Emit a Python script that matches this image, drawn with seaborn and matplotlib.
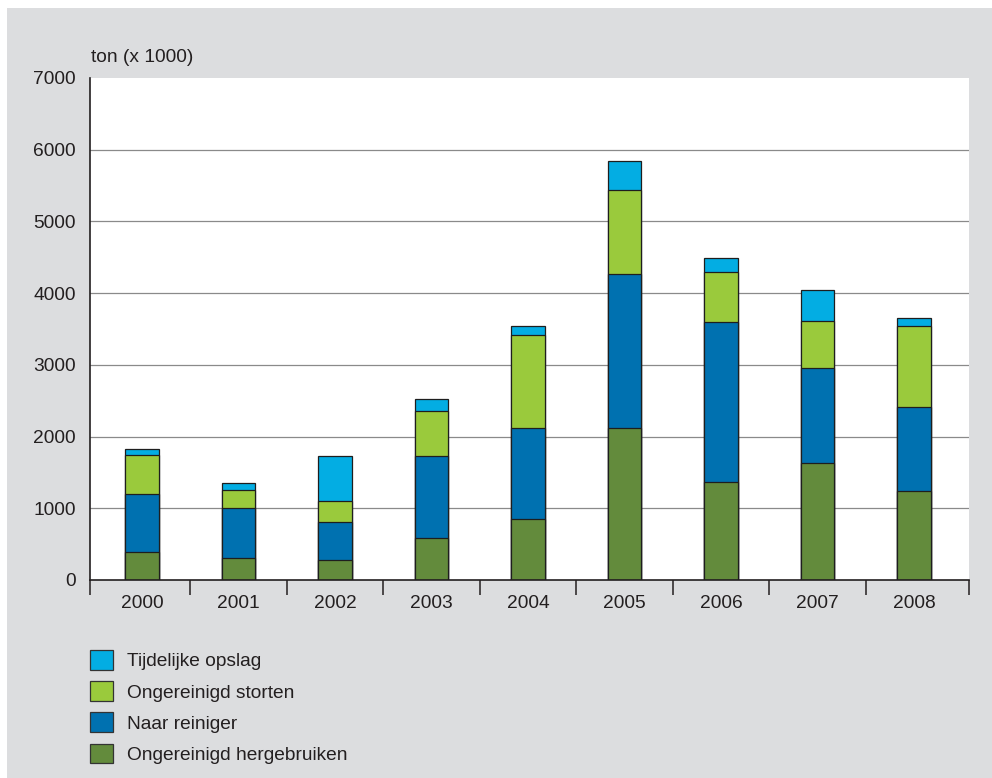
import matplotlib
matplotlib.use("Agg")
import matplotlib.pyplot as plt
from matplotlib import font_manager
from matplotlib.patches import Patch, Rectangle
import numpy as np
import pandas as pd
import seaborn as sns

# Jaren en hoeveelheden (ton x 1000) per verwerkingsroute
years = ["2000", "2001", "2002", "2003", "2004", "2005", "2006", "2007", "2008"]
hergebruiken = [390, 310, 285, 590, 850, 2125, 1360, 1630, 1240]    # Ongereinigd hergebruiken
reiniger = [810, 690, 530, 1140, 1275, 2140, 2235, 1325, 1175]      # Naar reiniger
storten = [540, 255, 280, 620, 1290, 1180, 700, 660, 1130]          # Ongereinigd storten
opslag = [80, 95, 630, 170, 130, 400, 200, 430, 105]                # Tijdelijke opslag

series_names = ["Ongereinigd hergebruiken", "Naar reiniger", "Ongereinigd storten", "Tijdelijke opslag"]
series_values = [hergebruiken, reiniger, storten, opslag]
series_colors = ["#638b3c", "#0071b0", "#9aca3c", "#03ade3"]
y_ticks = [0, 1000, 2000, 3000, 4000, 5000, 6000, 7000]

sns.set_theme(style="white")

# Prefer a narrow Arial-like face; fall back to the regular one
try:
    font_manager.findfont("Liberation Sans Narrow", fallback_to_default=False)
    fam = ["Liberation Sans Narrow", "DejaVu Sans"]
    fs = 16
except Exception:
    fam = ["Liberation Sans", "DejaVu Sans"]
    fs = 13.8
plt.rcParams["font.family"] = fam
text_color = "#231f20"

W, H = 992, 778
fig = plt.figure(figsize=(W / 100, H / 100), dpi=100)
fig.patch.set_facecolor("white")
fig.add_artist(Rectangle((7 / W, 0), 1, (H - 8) / H, transform=fig.transFigure,
                         facecolor="#dcdddf", edgecolor="none", zorder=-10))

ax = fig.add_axes([90 / W, 1 - 580 / H, (969 - 90) / W, (580 - 78) / H])
ax.set_facecolor("white")

df = pd.DataFrame({"jaar": years})
cum = np.zeros(len(years))
for name, vals in zip(series_names, series_values):
    cum = cum + np.array(vals)
    df[name] = cum.copy()

# Stacked bars: draw cumulative totals from the top segment down
for name, color in reversed(list(zip(series_names, series_colors))):
    sns.barplot(data=df, x="jaar", y=name, order=years, color=color, width=0.35,
                edgecolor="#1e1e1e", linewidth=0.9, errorbar=None, saturation=1,
                ax=ax, zorder=3)

x_lo, x_hi = -0.54, 8.57
ax.set_xlim(x_lo, x_hi)
ax.set_ylim(0, 7000)
ax.set_yticks(y_ticks)
ax.set_yticklabels([str(v) for v in y_ticks])
ax.set_xticks(range(len(years)))
ax.set_xticklabels(years)
ax.set_xticks([x_lo] + [i + 0.5 for i in range(len(years) - 1)] + [x_hi], minor=True)
ax.tick_params(axis="x", which="major", length=0, pad=11, labelsize=fs, labelcolor=text_color)
ax.tick_params(axis="x", which="minor", length=11, width=1.1, color=text_color, direction="out", bottom=True)
ax.tick_params(axis="y", length=0, pad=10, labelsize=fs, labelcolor=text_color)
ax.set_xlabel("")
ax.set_ylabel("")

ax.grid(False)
for v in y_ticks[1:-1]:
    ax.axhline(v, color="#8a8a8a", linewidth=0.9, zorder=1)

for side in ["top", "right"]:
    ax.spines[side].set_visible(False)
for side in ["left", "bottom"]:
    ax.spines[side].set_color(text_color)
    ax.spines[side].set_linewidth(1.2)
    ax.spines[side].set_zorder(5)

fig.text(91 / W, 1 - 62 / H, "ton (x 1000)", ha="left", va="baseline",
         fontsize=fs, color=text_color)

handles = [Patch(facecolor=c, edgecolor="#333333", linewidth=0.9)
           for c in reversed(series_colors)]
labels = list(reversed(series_names))
em = fs * 100 / 72
fig.legend(handles, labels, loc="upper left", bbox_to_anchor=(90 / W, 1 - 650 / H),
           frameon=False, fontsize=fs, borderpad=0, borderaxespad=0,
           handlelength=23 / em, handleheight=23 / em, handletextpad=14 / em,
           labelspacing=0.57, labelcolor=text_color)

fig.savefig("out.png", dpi=100)
